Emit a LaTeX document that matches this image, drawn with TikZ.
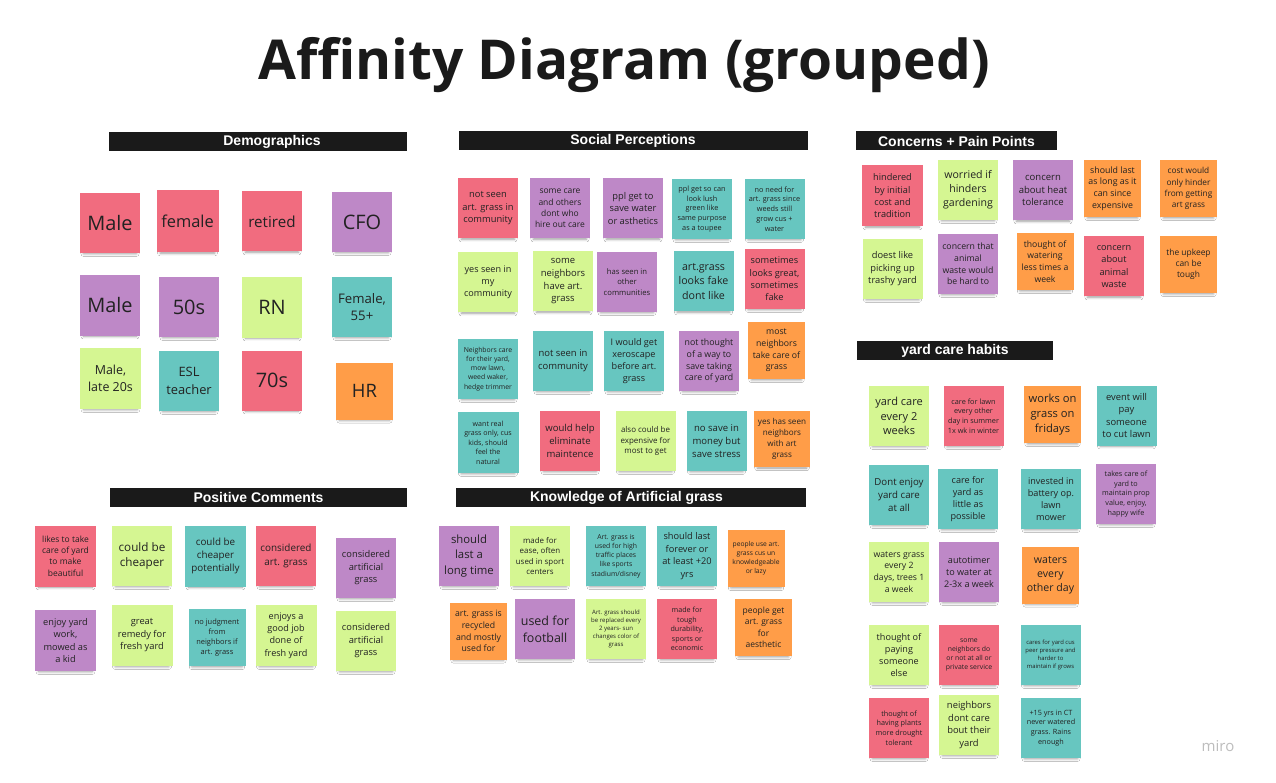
\documentclass[tikz,border=0pt]{standalone}
\usepackage{fontspec}
\setmainfont{Open Sans}
\newfontfamily\hdrfont{Liberation Sans}
\usetikzlibrary{shadows.blur}

\definecolor{stred}{HTML}{F16C7F}
\definecolor{stpurple}{HTML}{BE88C7}
\definecolor{stgreen}{HTML}{D5F692}
\definecolor{stteal}{HTML}{67C6C0}
\definecolor{storange}{HTML}{FF9D48}
\definecolor{notetext}{HTML}{222222}
\definecolor{hdrblack}{HTML}{1A1A1A}
\definecolor{logogrey}{HTML}{BDBDBD}

% font size from the wanted line spacing
\newcommand\fs[1]{\fontsize{\fpeval{0.745*#1}}{#1}\selectfont}

% sticky note: name, x, y, size, colour, line spacing, text
\newcommand\stk[7]{%
  \node[sticky, fill=#5, minimum width=#4pt, minimum height=#4pt, font=\fs{#6}] (#1) at (#2,#3) {#7};}

\tikzset{
  sticky/.style={rectangle, inner sep=1.5pt, align=center, text=notetext,
    blur shadow={shadow xshift=0pt, shadow yshift=-5pt, shadow scale=0.88,
      shadow blur radius=3pt, shadow opacity=40}},
  hdrbar/.style={rectangle, fill=hdrblack, minimum height=19pt, inner sep=0pt},
  hdrtext/.style={text=white, inner sep=0pt, font=\hdrfont\bfseries\fontsize{14}{16}\selectfont},
  titletext/.style={text=hdrblack, inner sep=0pt, anchor=base,
    font=\bfseries\fontsize{55}{60}\selectfont},
}

\begin{document}
\begin{tikzpicture}[x=1pt, y=-1pt]
\fill[white] (0,0) rectangle (1276,783);
\useasboundingbox (0,0) rectangle (1276,783);

% title
\node[titletext] (title) at (624,80) {Affinity Diagram (grouped)};

% section headers
\node[hdrbar, minimum width=298pt] (hDemo) at (258,141.5) {};
\node[hdrtext] (tDemo) at (272,141.5) {Demographics};
\node[hdrbar, minimum width=349pt] (hSoc) at (633.5,140.5) {};
\node[hdrtext] (tSoc) at (633,140.5) {Social Perceptions};
\node[hdrbar, minimum width=201pt] (hCon) at (956.5,141) {};
\node[hdrtext] (tCon) at (956.5,141) {Concerns + Pain Points};
\node[hdrbar, minimum width=196pt] (hYard) at (955,350.5) {};
\node[hdrtext] (tYard) at (955,350.5) {yard care habits};
\node[hdrbar, minimum width=297pt] (hPos) at (258.5,497.5) {};
\node[hdrtext] (tPos) at (258.5,497.5) {Positive Comments};
\node[hdrbar, minimum width=350pt] (hKno) at (631,497.5) {};
\node[hdrtext] (tKno) at (626.5,497.5) {Knowledge of Artificial grass};

% Demographics
\stk{d1}{110}{223}{60}{stred}{26.8}{Male}
\stk{d2}{187.5}{221.5}{62}{stred}{22}{female}
\stk{d3}{272}{221.5}{60}{stred}{20.4}{retired}
\stk{d4}{362}{222}{60}{stpurple}{26.8}{CFO}
\stk{d5}{110}{305.5}{60}{stpurple}{26.8}{Male}
\stk{d6}{189}{307}{60}{stpurple}{26.8}{50s}
\stk{d7}{272}{307.5}{60}{stgreen}{26.8}{RN}
\stk{d8}{362}{307}{60}{stteal}{17.7}{Female,\\55+}
\stk{d9}{110.5}{378.5}{61}{stgreen}{16.7}{Male,\\late 20s}
\stk{d10}{189}{381}{60}{stteal}{17.3}{ESL\\teacher}
\stk{d11}{272}{380.5}{60}{stred}{26.8}{70s}
\stk{d12}{364.5}{391}{57}{storange}{24.8}{HR}

% Social Perceptions
\stk{s1}{488}{208.5}{60}{stred}{12.5}{not seen\\art. grass in\\community}
\stk{s2}{560}{208.5}{60}{stpurple}{11.4}{some care\\and others\\dont who\\hire out care}
\stk{s3}{633}{208.5}{60}{stpurple}{12.5}{ppl get to\\save water\\or asthetics}
\stk{s4}{702}{209}{60}{stteal}{9.8}{ppl get so can\\look lush\\green like\\same purpose\\as a toupee}
\stk{s5}{774.5}{209}{60}{stteal}{9.8}{no need for\\art. grass since\\weeds still\\grow cus +\\water}
\stk{s6}{488}{282.5}{60}{stgreen}{12.2}{yes seen in\\my\\community}
\stk{s7}{563}{281.5}{60}{stgreen}{12.7}{some\\neighbors\\have art.\\grass}
\stk{s8}{627}{282}{60}{stpurple}{10.3}{has seen in\\other\\communities}
\stk{s9}{703.5}{281.5}{60}{stteal}{14.3}{art.grass\\looks fake\\dont like}
\stk{s10}{774.5}{279}{60}{stred}{12.4}{sometimes\\looks great,\\sometimes\\fake}
\stk{s11}{488}{369}{60}{stteal}{9.2}{Neighbors care\\for their yard,\\mow lawn,\\weed waker,\\hedge trimmer}
\stk{s12}{563}{361}{60}{stteal}{12.7}{not seen in\\community}
\stk{s13}{634}{361}{60}{stteal}{12.2}{I would get\\xeroscape\\before art.\\grass}
\stk{s14}{709}{361}{60}{stpurple}{11.8}{not thought\\of a way to\\save taking\\care of yard}
\stk{s15}{776.5}{350.5}{57}{storange}{11.7}{most\\neighbors\\take care of\\grass}
\stk{s16}{488}{442.5}{61}{stteal}{9.5}{want real\\grass only, cus\\kids, should\\feel the\\natural}
\stk{s17}{570}{441}{60}{stred}{12.8}{would help\\eliminate\\maintence}
\stk{s18}{645.5}{441}{60}{stgreen}{10.7}{also could be\\expensive for\\most to get}
\stk{s19}{716.5}{441}{60}{stteal}{12.8}{no save in\\money but\\save stress}
\stk{s20}{782}{439}{56}{storange}{10.9}{yes has seen\\neighbors\\with art\\grass}

% Concerns + Pain Points
\stk{c1}{892.5}{196}{61}{stred}{12.3}{hindered\\by initial\\cost and\\tradition}
\stk{c2}{968}{190}{60}{stgreen}{14.2}{worried if\\hinders\\gardening}
\stk{c3}{1043}{190.5}{60}{stpurple}{12.8}{concern\\about heat\\tolerance}
\stk{c4}{1112.5}{188.5}{57}{storange}{11.8}{should last\\as long as it\\can since\\expensive}
\stk{c5}{1188.5}{188.5}{57}{storange}{11.1}{cost would\\only hinder\\from getting\\art grass}
\stk{c6}{892.5}{269}{60}{stgreen}{12.5}{doest like\\picking up\\trashy yard}
\stk{c7}{968}{264}{60}{stpurple}{11.7}{concern that\\animal\\waste would\\be hard to}
\stk{c8}{1045}{261.5}{57}{storange}{11.6}{thought of\\watering\\less times a\\week}
\stk{c9}{1114}{266.5}{60}{stred}{12.3}{concern\\about\\animal\\waste}
\stk{c10}{1188.5}{264.5}{57}{storange}{11.3}{the upkeep\\can be\\tough}

% yard care habits
\stk{y1}{899}{416}{60}{stgreen}{14.8}{yard care\\every 2\\weeks}
\stk{y2}{973.5}{416}{60}{stred}{9.8}{care for lawn\\every other\\day in summer\\1x wk in winter}
\stk{y3}{1052.5}{414.5}{57}{storange}{15}{works on\\grass on\\fridays}
\stk{y4}{1126.5}{415.5}{60}{stteal}{12.6}{event will\\pay\\someone\\to cut lawn}
\stk{y5}{899}{495}{60}{stteal}{13}{Dont enjoy\\yard care\\at all}
\stk{y6}{968}{499}{60}{stteal}{12.2}{care for\\yard as\\little as\\possible}
\stk{y7}{1051}{499}{60}{stteal}{12.2}{invested in\\battery op.\\lawn\\mower}
\stk{y8}{1126}{494}{60}{stpurple}{9.7}{takes care of\\yard to\\maintain prop\\value, enjoy,\\happy wife}
\stk{y9}{899}{572}{60}{stgreen}{11.7}{waters grass\\every 2\\days, trees 1\\a week}
\stk{y10}{969}{572}{60}{stpurple}{12.2}{autotimer\\to water at\\2-3x a week}
\stk{y11}{1050.5}{575}{57}{storange}{14.2}{waters\\every\\other day}
\stk{y12}{899}{655}{60}{stgreen}{12.2}{thought of\\paying\\someone\\else}
\stk{y13}{969}{655}{60}{stred}{9.2}{some\\neighbors do\\or not at all or\\private service}
\stk{y14}{1050.5}{655}{60}{stteal}{7.9}{cares for yard cus\\peer pressure and\\harder to\\maintain if grows}
\stk{y15}{899}{728}{60}{stred}{9.7}{thought of\\having plants\\more drought\\tolerant}
\stk{y16}{969}{725}{60}{stgreen}{12.6}{neighbors\\dont care\\bout their\\yard}
\stk{y17}{1051}{728}{60}{stteal}{9.7}{+15 yrs in CT\\never watered\\grass. Rains\\enough}

% Positive Comments
\stk{p1}{65.5}{556}{61}{stred}{11.4}{likes to take\\care of yard\\to make\\beautiful}
\stk{p2}{142}{556}{60}{stgreen}{15.7}{could be\\cheaper}
\stk{p3}{215.5}{556}{61}{stteal}{13.2}{could be\\cheaper\\potentially}
\stk{p4}{286}{556}{60}{stred}{13.3}{considered\\art. grass}
\stk{p5}{366}{568}{60}{stpurple}{12.5}{considered\\artificial\\grass}
\stk{p6}{65.5}{640.5}{61}{stpurple}{12.4}{enjoy yard\\work,\\mowed as\\a kid}
\stk{p7}{142}{635.5}{61}{stgreen}{12.5}{great\\remedy for\\fresh yard}
\stk{p8}{217}{637.5}{57}{stteal}{10}{no judgment\\from\\neighbors if\\art. grass}
\stk{p9}{286}{635.5}{61}{stgreen}{12.2}{enjoys a\\good job\\done of\\fresh yard}
\stk{p10}{366}{641}{60}{stgreen}{12.5}{considered\\artificial\\grass}

% Knowledge of Artificial grass
\stk{k1}{469}{556}{60}{stpurple}{15.2}{should\\last a\\long time}
\stk{k2}{540}{556}{60}{stgreen}{10.6}{made for\\ease, often\\used in sport\\centers}
\stk{k3}{616}{556}{60}{stteal}{9.2}{Art. grass is\\used for high\\traffic places\\like sports\\stadium/disney}
\stk{k4}{687}{556}{60}{stteal}{12.4}{should last\\forever or\\at least +20\\yrs}
\stk{k5}{756}{558.5}{57}{storange}{9}{people use art.\\grass cus un\\knowledgeable\\or lazy}
\stk{k6}{478.5}{631}{57}{storange}{11.7}{art. grass is\\recycled\\and mostly\\used for}
\stk{k7}{545}{629}{60}{stpurple}{16.7}{used for\\football}
\stk{k8}{616}{629}{60}{stgreen}{8.1}{Art. grass should\\be replaced every\\2 years- sun\\changes color of\\grass}
\stk{k9}{687}{629}{60}{stred}{9.6}{made for\\tough\\durability,\\sports or\\economic}
\stk{k10}{763.5}{627.5}{57}{storange}{11.4}{people get\\art. grass\\for\\aesthetic}

% board logo
\node[text=logogrey, inner sep=0pt, font=\fontsize{15}{16}\selectfont] (logo) at (1218,746) {miro};
\end{tikzpicture}
\end{document}
